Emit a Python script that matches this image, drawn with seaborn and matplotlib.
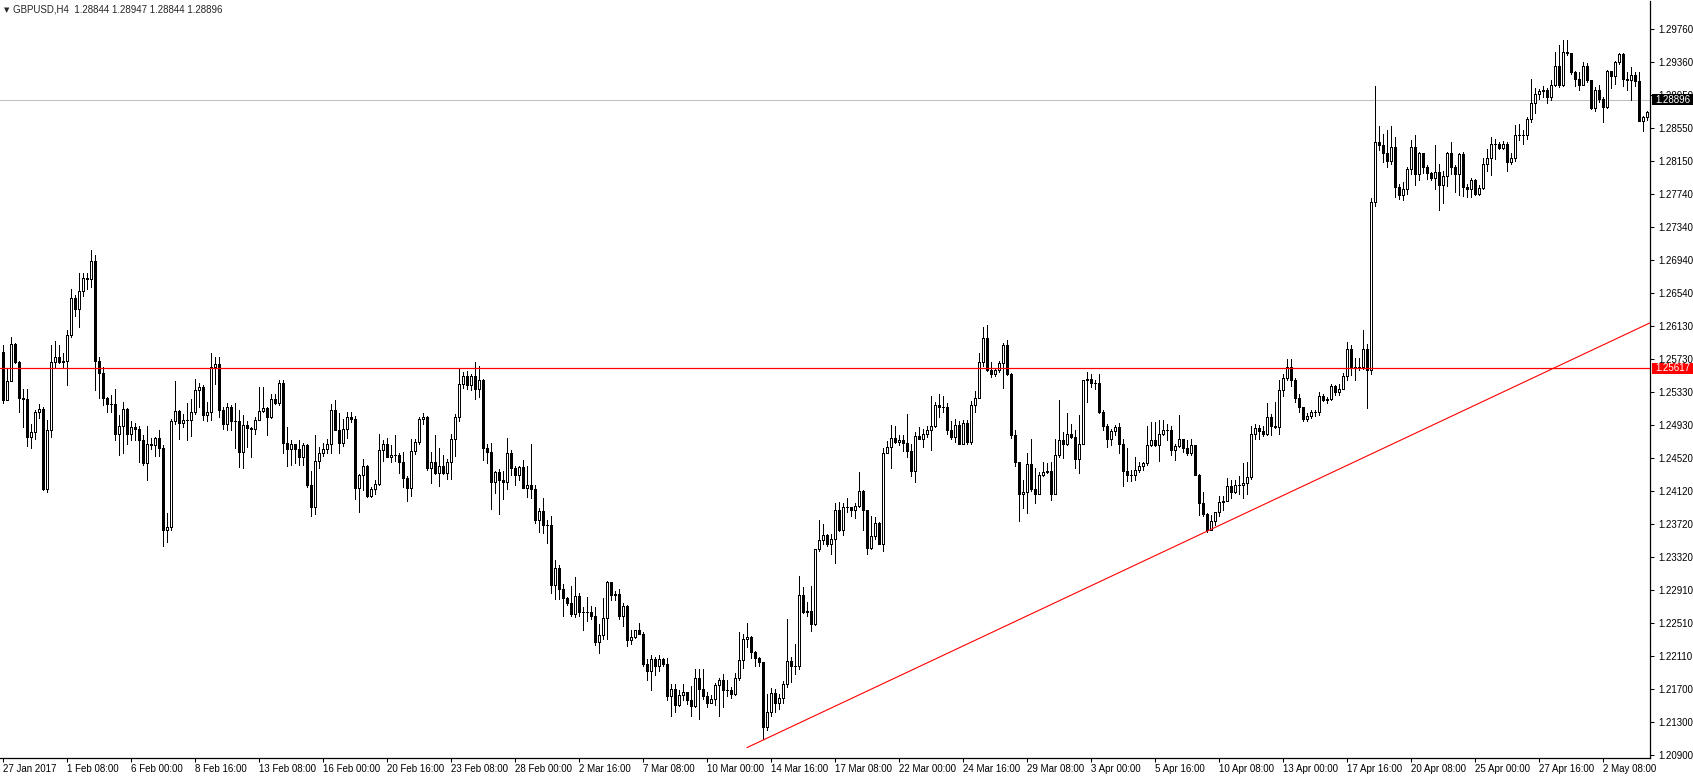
import numpy as np
import pandas as pd
import matplotlib
matplotlib.use("Agg")
import matplotlib.pyplot as plt
from matplotlib.patches import Rectangle
import seaborn as sns

# GBPUSD H4 candles (open = previous close)
first_open = 1.2582
closes = [
    1.2523, 1.2546, 1.2592, 1.2570, 1.2526, 1.2524, 1.2478, 1.2484, 1.2508, 1.2512,
    1.2415, 1.2487, 1.2569, 1.2576, 1.2570, 1.2571, 1.2603, 1.2647, 1.2634, 1.2656,
    1.2672, 1.2671, 1.2693, 1.2571, 1.2556, 1.2525, 1.2518, 1.2518, 1.2482, 1.2491,
    1.2512, 1.2482, 1.2490, 1.2488, 1.2474, 1.2446, 1.2470, 1.2468, 1.2477, 1.2465,
    1.2365, 1.2368, 1.2497, 1.2510, 1.2495, 1.2499, 1.2499, 1.2509, 1.2535, 1.2539,
    1.2505, 1.2508, 1.2563, 1.2567, 1.2511, 1.2494, 1.2514, 1.2497, 1.2498, 1.2460,
    1.2493, 1.2489, 1.2488, 1.2499, 1.2510, 1.2513, 1.2503, 1.2524, 1.2519, 1.2544,
    1.2471, 1.2463, 1.2469, 1.2463, 1.2454, 1.2468, 1.2419, 1.2393, 1.2449, 1.2458,
    1.2463, 1.2470, 1.2511, 1.2487, 1.2471, 1.2488, 1.2503, 1.2500, 1.2416, 1.2432,
    1.2442, 1.2406, 1.2415, 1.2421, 1.2462, 1.2470, 1.2454, 1.2456, 1.2456, 1.2447,
    1.2428, 1.2416, 1.2461, 1.2472, 1.2500, 1.2502, 1.2440, 1.2448, 1.2434, 1.2443,
    1.2434, 1.2447, 1.2475, 1.2503, 1.2543, 1.2553, 1.2542, 1.2553, 1.2537, 1.2548,
    1.2465, 1.2460, 1.2423, 1.2435, 1.2426, 1.2423, 1.2459, 1.2440, 1.2432, 1.2441,
    1.2416, 1.2420, 1.2415, 1.2377, 1.2388, 1.2371, 1.2370, 1.2297, 1.2318, 1.2292,
    1.2281, 1.2276, 1.2262, 1.2284, 1.2264, 1.2265, 1.2265, 1.2259, 1.2228, 1.2236,
    1.2257, 1.2301, 1.2285, 1.2286, 1.2259, 1.2272, 1.2230, 1.2234, 1.2243, 1.2238,
    1.2201, 1.2193, 1.2207, 1.2198, 1.2207, 1.2201, 1.2162, 1.2170, 1.2151, 1.2163,
    1.2167, 1.2157, 1.2150, 1.2184, 1.2170, 1.2162, 1.2153, 1.2158, 1.2175, 1.2182,
    1.2169, 1.2169, 1.2165, 1.2184, 1.2206, 1.2232, 1.2234, 1.2216, 1.2208, 1.2204,
    1.2124, 1.2143, 1.2166, 1.2153, 1.2160, 1.2176, 1.2205, 1.2199, 1.2198, 1.2285,
    1.2265, 1.2266, 1.2250, 1.2341, 1.2352, 1.2358, 1.2348, 1.2353, 1.2389, 1.2365,
    1.2393, 1.2393, 1.2389, 1.2394, 1.2412, 1.2389, 1.2343, 1.2357, 1.2373, 1.2348,
    1.2458, 1.2466, 1.2477, 1.2472, 1.2474, 1.2471, 1.2461, 1.2437, 1.2479, 1.2476,
    1.2482, 1.2486, 1.2491, 1.2517, 1.2514, 1.2515, 1.2486, 1.2478, 1.2493, 1.2470,
    1.2495, 1.2472, 1.2517, 1.2526, 1.2570, 1.2599, 1.2560, 1.2555, 1.2560, 1.2568,
    1.2590, 1.2555, 1.2480, 1.2447, 1.2409, 1.2411, 1.2445, 1.2415, 1.2409, 1.2432,
    1.2435, 1.2436, 1.2409, 1.2456, 1.2474, 1.2470, 1.2482, 1.2478, 1.2451, 1.2470,
    1.2548, 1.2549, 1.2544, 1.2544, 1.2509, 1.2492, 1.2475, 1.2485, 1.2490, 1.2470,
    1.2437, 1.2432, 1.2432, 1.2438, 1.2443, 1.2446, 1.2468, 1.2474, 1.2468, 1.2482,
    1.2487, 1.2486, 1.2462, 1.2467, 1.2475, 1.2465, 1.2458, 1.2468, 1.2432, 1.2398,
    1.2384, 1.2364, 1.2375, 1.2386, 1.2399, 1.2400, 1.2418, 1.2411, 1.2419, 1.2419,
    1.2422, 1.2429, 1.2482, 1.2489, 1.2485, 1.2482, 1.2502, 1.2492, 1.2490, 1.2535,
    1.2550, 1.2563, 1.2547, 1.2525, 1.2515, 1.2500, 1.2504, 1.2508, 1.2508, 1.2528,
    1.2523, 1.2524, 1.2540, 1.2533, 1.2537, 1.2552, 1.2585, 1.2562, 1.2563, 1.2563,
    1.2585, 1.2560, 1.2765, 1.2838, 1.2834, 1.2824, 1.2815, 1.2832, 1.2783, 1.2773,
    1.2781, 1.2805, 1.2832, 1.2799, 1.2824, 1.2807, 1.2800, 1.2794, 1.2801, 1.2786,
    1.2796, 1.2824, 1.2807, 1.2799, 1.2823, 1.2783, 1.2781, 1.2792, 1.2774, 1.2782,
    1.2811, 1.2819, 1.2836, 1.2836, 1.2831, 1.2836, 1.2813, 1.2819, 1.2846, 1.2846,
    1.2846, 1.2866, 1.2885, 1.2897, 1.2900, 1.2901, 1.2893, 1.2908, 1.2931, 1.2907,
    1.2948, 1.2946, 1.2923, 1.2915, 1.2907, 1.2931, 1.2913, 1.2880, 1.2901, 1.2891,
    1.2881, 1.2925, 1.2919, 1.2935, 1.2945, 1.2915, 1.2913, 1.2920, 1.2912, 1.2863,
    1.2869, 1.2875,
]
highs = [
    1.2590, 1.2562, 1.2600, 1.2593, 1.2571, 1.2537, 1.2537, 1.2494, 1.2511, 1.2518,
    1.2515, 1.2499, 1.2590, 1.2595, 1.2590, 1.2580, 1.2608, 1.2659, 1.2651, 1.2678,
    1.2678, 1.2678, 1.2706, 1.2700, 1.2575, 1.2563, 1.2527, 1.2529, 1.2537, 1.2505,
    1.2521, 1.2513, 1.2497, 1.2495, 1.2492, 1.2480, 1.2491, 1.2477, 1.2478, 1.2486,
    1.2468, 1.2385, 1.2500, 1.2546, 1.2511, 1.2506, 1.2519, 1.2524, 1.2549, 1.2544,
    1.2541, 1.2521, 1.2581, 1.2575, 1.2576, 1.2515, 1.2520, 1.2517, 1.2519, 1.2511,
    1.2505, 1.2497, 1.2490, 1.2502, 1.2539, 1.2539, 1.2515, 1.2531, 1.2531, 1.2548,
    1.2547, 1.2490, 1.2474, 1.2470, 1.2474, 1.2471, 1.2470, 1.2437, 1.2480, 1.2466,
    1.2471, 1.2475, 1.2518, 1.2523, 1.2507, 1.2500, 1.2509, 1.2509, 1.2504, 1.2433,
    1.2451, 1.2444, 1.2417, 1.2425, 1.2482, 1.2474, 1.2477, 1.2468, 1.2480, 1.2458,
    1.2460, 1.2430, 1.2476, 1.2476, 1.2503, 1.2507, 1.2504, 1.2460, 1.2480, 1.2464,
    1.2456, 1.2451, 1.2482, 1.2506, 1.2561, 1.2557, 1.2558, 1.2555, 1.2569, 1.2565,
    1.2549, 1.2470, 1.2471, 1.2436, 1.2439, 1.2436, 1.2477, 1.2462, 1.2443, 1.2443,
    1.2450, 1.2443, 1.2470, 1.2419, 1.2391, 1.2403, 1.2377, 1.2381, 1.2328, 1.2322,
    1.2299, 1.2283, 1.2296, 1.2307, 1.2288, 1.2271, 1.2283, 1.2272, 1.2270, 1.2250,
    1.2281, 1.2302, 1.2299, 1.2290, 1.2292, 1.2275, 1.2273, 1.2242, 1.2243, 1.2251,
    1.2240, 1.2207, 1.2212, 1.2210, 1.2212, 1.2208, 1.2208, 1.2177, 1.2176, 1.2169,
    1.2176, 1.2167, 1.2174, 1.2195, 1.2195, 1.2195, 1.2167, 1.2163, 1.2178, 1.2184,
    1.2189, 1.2182, 1.2173, 1.2190, 1.2240, 1.2238, 1.2251, 1.2235, 1.2217, 1.2210,
    1.2204, 1.2164, 1.2172, 1.2170, 1.2165, 1.2180, 1.2256, 1.2210, 1.2226, 1.2308,
    1.2295, 1.2277, 1.2296, 1.2341, 1.2377, 1.2372, 1.2360, 1.2360, 1.2398, 1.2399,
    1.2397, 1.2404, 1.2393, 1.2397, 1.2435, 1.2413, 1.2388, 1.2381, 1.2380, 1.2374,
    1.2464, 1.2473, 1.2493, 1.2492, 1.2480, 1.2480, 1.2506, 1.2469, 1.2484, 1.2490,
    1.2488, 1.2491, 1.2528, 1.2521, 1.2530, 1.2528, 1.2519, 1.2498, 1.2500, 1.2497,
    1.2499, 1.2499, 1.2522, 1.2534, 1.2581, 1.2612, 1.2615, 1.2570, 1.2562, 1.2571,
    1.2593, 1.2596, 1.2556, 1.2487, 1.2448, 1.2426, 1.2459, 1.2476, 1.2440, 1.2435,
    1.2447, 1.2446, 1.2447, 1.2476, 1.2523, 1.2484, 1.2507, 1.2494, 1.2486, 1.2505,
    1.2548, 1.2557, 1.2555, 1.2548, 1.2555, 1.2511, 1.2494, 1.2488, 1.2493, 1.2495,
    1.2476, 1.2465, 1.2438, 1.2454, 1.2447, 1.2448, 1.2491, 1.2496, 1.2496, 1.2499,
    1.2499, 1.2494, 1.2492, 1.2470, 1.2505, 1.2476, 1.2474, 1.2476, 1.2468, 1.2433,
    1.2411, 1.2385, 1.2383, 1.2387, 1.2406, 1.2406, 1.2428, 1.2425, 1.2425, 1.2431,
    1.2446, 1.2448, 1.2492, 1.2494, 1.2493, 1.2491, 1.2520, 1.2506, 1.2521, 1.2548,
    1.2555, 1.2573, 1.2573, 1.2550, 1.2531, 1.2515, 1.2507, 1.2511, 1.2511, 1.2533,
    1.2531, 1.2527, 1.2543, 1.2541, 1.2543, 1.2556, 1.2594, 1.2590, 1.2574, 1.2574,
    1.2608, 1.2592, 1.2770, 1.2906, 1.2858, 1.2848, 1.2853, 1.2858, 1.2844, 1.2787,
    1.2789, 1.2807, 1.2841, 1.2846, 1.2826, 1.2824, 1.2810, 1.2801, 1.2834, 1.2811,
    1.2803, 1.2826, 1.2838, 1.2810, 1.2825, 1.2826, 1.2787, 1.2794, 1.2793, 1.2785,
    1.2819, 1.2830, 1.2844, 1.2842, 1.2838, 1.2839, 1.2838, 1.2825, 1.2859, 1.2860,
    1.2852, 1.2868, 1.2915, 1.2904, 1.2903, 1.2906, 1.2904, 1.2913, 1.2948, 1.2956,
    1.2962, 1.2963, 1.2935, 1.2925, 1.2923, 1.2935, 1.2934, 1.2914, 1.2905, 1.2907,
    1.2893, 1.2926, 1.2925, 1.2937, 1.2946, 1.2946, 1.2923, 1.2929, 1.2923, 1.2923,
    1.2870, 1.2876,
]
lows = [
    1.2520, 1.2533, 1.2556, 1.2568, 1.2509, 1.2490, 1.2467, 1.2465, 1.2476, 1.2501,
    1.2413, 1.2411, 1.2478, 1.2564, 1.2568, 1.2564, 1.2541, 1.2600, 1.2626, 1.2612,
    1.2650, 1.2658, 1.2661, 1.2535, 1.2525, 1.2517, 1.2509, 1.2509, 1.2474, 1.2456,
    1.2458, 1.2470, 1.2474, 1.2474, 1.2448, 1.2444, 1.2426, 1.2463, 1.2455, 1.2455,
    1.2345, 1.2350, 1.2365, 1.2494, 1.2476, 1.2490, 1.2474, 1.2479, 1.2506, 1.2514,
    1.2499, 1.2497, 1.2499, 1.2543, 1.2502, 1.2488, 1.2487, 1.2487, 1.2464, 1.2441,
    1.2440, 1.2466, 1.2454, 1.2482, 1.2499, 1.2509, 1.2480, 1.2501, 1.2518, 1.2517,
    1.2458, 1.2442, 1.2444, 1.2446, 1.2444, 1.2444, 1.2417, 1.2382, 1.2384, 1.2440,
    1.2455, 1.2458, 1.2458, 1.2486, 1.2458, 1.2467, 1.2477, 1.2496, 1.2402, 1.2387,
    1.2413, 1.2405, 1.2405, 1.2408, 1.2420, 1.2449, 1.2453, 1.2448, 1.2449, 1.2434,
    1.2417, 1.2400, 1.2406, 1.2457, 1.2470, 1.2494, 1.2438, 1.2422, 1.2433, 1.2418,
    1.2433, 1.2427, 1.2427, 1.2455, 1.2498, 1.2538, 1.2537, 1.2535, 1.2524, 1.2527,
    1.2450, 1.2446, 1.2390, 1.2410, 1.2384, 1.2402, 1.2415, 1.2432, 1.2419, 1.2425,
    1.2416, 1.2405, 1.2403, 1.2373, 1.2362, 1.2361, 1.2349, 1.2288, 1.2280, 1.2280,
    1.2259, 1.2273, 1.2259, 1.2258, 1.2259, 1.2242, 1.2254, 1.2256, 1.2224, 1.2214,
    1.2232, 1.2232, 1.2279, 1.2279, 1.2256, 1.2247, 1.2223, 1.2226, 1.2233, 1.2237,
    1.2199, 1.2182, 1.2169, 1.2187, 1.2192, 1.2199, 1.2157, 1.2138, 1.2142, 1.2150,
    1.2157, 1.2152, 1.2138, 1.2149, 1.2134, 1.2158, 1.2148, 1.2153, 1.2151, 1.2137,
    1.2148, 1.2162, 1.2160, 1.2163, 1.2182, 1.2196, 1.2222, 1.2208, 1.2198, 1.2198,
    1.2109, 1.2121, 1.2137, 1.2142, 1.2146, 1.2153, 1.2173, 1.2179, 1.2189, 1.2195,
    1.2263, 1.2259, 1.2241, 1.2248, 1.2339, 1.2347, 1.2345, 1.2335, 1.2324, 1.2363,
    1.2358, 1.2386, 1.2381, 1.2379, 1.2393, 1.2365, 1.2335, 1.2341, 1.2353, 1.2347,
    1.2339, 1.2458, 1.2440, 1.2471, 1.2468, 1.2461, 1.2453, 1.2430, 1.2423, 1.2475,
    1.2466, 1.2478, 1.2462, 1.2490, 1.2502, 1.2508, 1.2482, 1.2476, 1.2472, 1.2469,
    1.2469, 1.2470, 1.2470, 1.2509, 1.2526, 1.2565, 1.2558, 1.2551, 1.2552, 1.2557,
    1.2538, 1.2554, 1.2477, 1.2442, 1.2376, 1.2391, 1.2385, 1.2412, 1.2397, 1.2409,
    1.2431, 1.2434, 1.2401, 1.2408, 1.2453, 1.2452, 1.2468, 1.2477, 1.2440, 1.2434,
    1.2469, 1.2521, 1.2539, 1.2537, 1.2507, 1.2486, 1.2466, 1.2468, 1.2480, 1.2458,
    1.2418, 1.2424, 1.2424, 1.2426, 1.2435, 1.2438, 1.2444, 1.2467, 1.2467, 1.2449,
    1.2481, 1.2474, 1.2456, 1.2450, 1.2466, 1.2460, 1.2456, 1.2456, 1.2432, 1.2383,
    1.2381, 1.2362, 1.2365, 1.2371, 1.2381, 1.2389, 1.2400, 1.2403, 1.2410, 1.2409,
    1.2403, 1.2408, 1.2427, 1.2476, 1.2476, 1.2479, 1.2480, 1.2480, 1.2489, 1.2482,
    1.2528, 1.2548, 1.2540, 1.2521, 1.2509, 1.2498, 1.2498, 1.2501, 1.2504, 1.2505,
    1.2522, 1.2520, 1.2523, 1.2529, 1.2529, 1.2536, 1.2548, 1.2554, 1.2548, 1.2560,
    1.2561, 1.2513, 1.2555, 1.2760, 1.2828, 1.2813, 1.2807, 1.2811, 1.2771, 1.2768,
    1.2767, 1.2775, 1.2799, 1.2786, 1.2791, 1.2800, 1.2793, 1.2791, 1.2780, 1.2755,
    1.2763, 1.2784, 1.2799, 1.2777, 1.2773, 1.2772, 1.2771, 1.2771, 1.2773, 1.2773,
    1.2781, 1.2802, 1.2798, 1.2817, 1.2830, 1.2829, 1.2802, 1.2811, 1.2815, 1.2840,
    1.2836, 1.2842, 1.2862, 1.2873, 1.2891, 1.2893, 1.2885, 1.2889, 1.2906, 1.2905,
    1.2906, 1.2944, 1.2921, 1.2906, 1.2901, 1.2911, 1.2911, 1.2878, 1.2876, 1.2887,
    1.2862, 1.2880, 1.2904, 1.2909, 1.2933, 1.2906, 1.2901, 1.2889, 1.2906, 1.2863,
    1.2851, 1.2865,
]

date_labels = [
    "27 Jan 2017", "1 Feb 08:00", "6 Feb 00:00", "8 Feb 16:00", "13 Feb 08:00",
    "16 Feb 00:00", "20 Feb 16:00", "23 Feb 08:00", "28 Feb 00:00", "2 Mar 16:00",
    "7 Mar 08:00", "10 Mar 00:00", "14 Mar 16:00", "17 Mar 08:00", "22 Mar 00:00",
    "24 Mar 16:00", "29 Mar 08:00", "3 Apr 00:00", "5 Apr 16:00", "10 Apr 08:00",
    "13 Apr 00:00", "17 Apr 16:00", "20 Apr 08:00", "25 Apr 00:00", "27 Apr 16:00",
    "2 May 08:00",
]
bars_per_label = 16
price_ticks = [
    1.29760, 1.29360, 1.28950, 1.28550, 1.28150, 1.27740, 1.27340, 1.26940,
    1.26540, 1.26130, 1.25730, 1.25330, 1.24930, 1.24520, 1.24120, 1.23720,
    1.23320, 1.22910, 1.22510, 1.22110, 1.21700, 1.21300, 1.20900,
]
level_price = 1.25617      # horizontal red line
bid_price = 1.28896        # grey bid line
trend_bars = [186, 301]    # trend line anchors
trend_prices = [1.2099, 1.2363]
title = "GBPUSD,H4  1.28844 1.28947 1.28844 1.28896"

assert len(closes) == len(highs) == len(lows)

df = pd.DataFrame({"close": closes, "high": highs, "low": lows})
df["open"] = [first_open] + closes[:-1]
df["bar"] = np.arange(len(df))
df["top"] = df[["open", "close"]].max(axis=1)
df["bot"] = df[["open", "close"]].min(axis=1)
df["up"] = df["close"] >= df["open"]

sns.set_theme(style="white")
plt.rcParams["font.family"] = ["Liberation Sans", "DejaVu Sans"]

W, H = 1693, 779
fig = plt.figure(figsize=(W / 100, H / 100), dpi=100)
fig.patch.set_facecolor("white")
ax = fig.add_axes([0, 21 / H, 1650 / W, 757 / H])
ax.set_facecolor("white")

# wicks
ax.vlines(df["bar"], df[["low", "bot"]].min(axis=1), df[["high", "top"]].max(axis=1),
          color="black", lw=0.6, antialiased=False, zorder=3)
# bodies
body_h = (df["top"] - df["bot"]).clip(lower=0.000005)
ax.bar(df["bar"], body_h, bottom=df["bot"], width=0.5,
       color=np.where(df["up"], "white", "black"), edgecolor="black",
       linewidth=0.6, antialiased=False, zorder=4)

x_min, x_max = -0.75, len(df) - 0.25
ax.set_xlim(x_min, x_max)
ax.set_ylim(1.20863, 1.30100)

# horizontal levels
ax.axhline(bid_price, color="#c0c0c0", lw=0.75, zorder=2)
ax.axhline(level_price, color="red", lw=0.9, zorder=5)

# trend line extended to the right edge
slope = (trend_prices[1] - trend_prices[0]) / (trend_bars[1] - trend_bars[0])
trend_x = [trend_bars[0], x_max]
trend_y = [trend_prices[0], trend_prices[0] + slope * (x_max - trend_bars[0])]
sns.lineplot(x=trend_x, y=trend_y, color="red", lw=0.8, ax=ax, zorder=5)

# axes look
for side in ["top", "left"]:
    ax.spines[side].set_visible(False)
for side in ["right", "bottom"]:
    ax.spines[side].set_color("black")
    ax.spines[side].set_linewidth(0.9)

ax.yaxis.tick_right()
ax.set_yticks(price_ticks)
ax.set_yticklabels([f"{p:.5f}" for p in price_ticks])
ax.set_xticks(np.arange(0, len(date_labels) * bars_per_label, bars_per_label))
ax.set_xticklabels(date_labels, ha="left")
ax.tick_params(axis="y", direction="out", length=3, width=0.75, pad=3,
               labelsize=7, colors="black", right=True, left=False)
ax.tick_params(axis="x", direction="out", length=3, width=0.75, pad=1,
               labelsize=7, colors="black", bottom=True)
ax.grid(False)
ax.set_xlabel("")
ax.set_ylabel("")

# price tags on the right scale
tag_h = 11 * (1.30100 - 1.20863) / 757
ytrans = ax.get_yaxis_transform()
for price, fc in [(level_price, "red"), (bid_price, "black")]:
    ax.add_patch(Rectangle((1652 / 1650, price - tag_h / 2), 41 / 1650, tag_h,
                           transform=ytrans, clip_on=False, facecolor=fc,
                           edgecolor="none", zorder=10))
    ax.text(1655 / 1650, price, f"{price:.5f}", transform=ytrans, color="white",
            fontsize=7, va="center", ha="left", zorder=11, clip_on=False)

fig.text(4 / W, 1 - 10 / H, "\u25bc", fontsize=5, va="center", ha="left",
         family=["DejaVu Sans"])
fig.text(13 / W, 1 - 10 / H, title, fontsize=7, va="center", ha="left")

fig.savefig("out.png", dpi=100, facecolor="white")
